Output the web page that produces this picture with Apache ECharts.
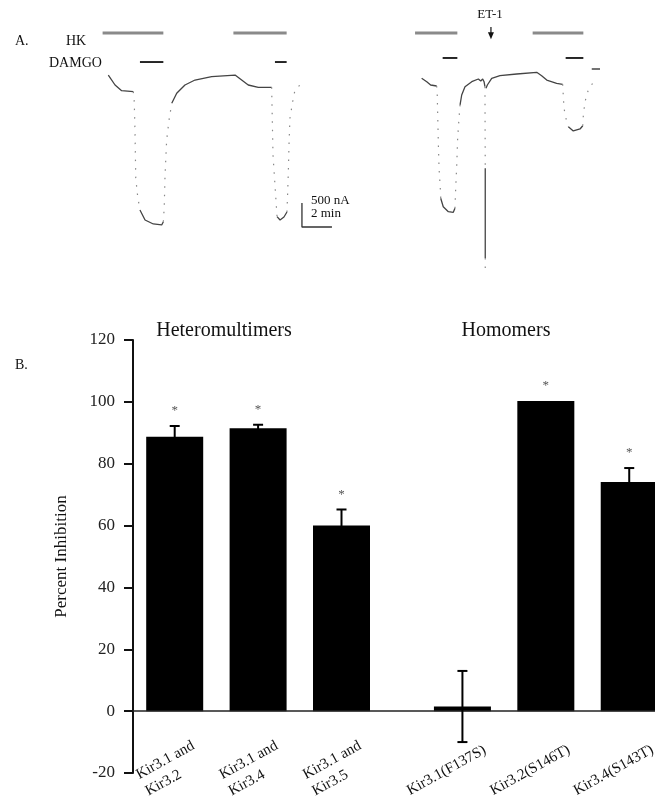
<!DOCTYPE html>
<html>
<head>
<meta charset="utf-8">
<script src="https://cdn.jsdelivr.net/npm/echarts@6/dist/echarts.min.js"></script>
<style>html,body{margin:0;padding:0;background:#fff}#c{width:655px;height:806px}</style>
</head>
<body>
<div id="c"></div>
<script>
// ---------- Panel B data ----------
const categories = ['Kir3.1 and\nKir3.2', 'Kir3.1 and\nKir3.4', 'Kir3.1 and\nKir3.5', 'Kir3.1(F137S)', 'Kir3.2(S146T)', 'Kir3.4(S143T)'];
const percentInhibition = [88.7, 91.5, 60.0, 1.5, 100.3, 74.1];
const sem = [3.5, 1.1, 5.2, 11.5, 0, 4.5];
const significance = ['*', '*', '*', '', '*', '*'];
const groupNames = ['Heteromultimers', 'Homomers'];
const yTicks = { min: -20, max: 120, step: 20 };

// ---------- Panel A data (time in min, current in nA relative to baseline) ----------
const trace1Slow = [
  [[7.22,312],[7.67,104],[8.11,-15],[8.89,-35]],
  [[9.33,-2500],[9.67,-2708],[10.22,-2791],[10.78,-2812],[10.89,-2744]],
  [[11.45,-277],[11.78,-69],[12.33,104],[13.0,208],[14.11,277],[15.67,312],[16.11,208],[16.55,104],[17.22,56],[18.11,56]],
  [[18.47,-2639],[18.67,-2708],[18.93,-2646],[19.13,-2541]]
];
const trace1Fast = [
  [[8.89,-35],[8.95,-244],[9.0,-869],[9.05,-1833],[9.18,-2223],[9.33,-2500]],
  [[10.89,-2744],[10.95,-2431],[11.0,-1806],[11.11,-1042],[11.27,-625],[11.45,-277]],
  [[18.11,56],[18.2,-1354],[18.47,-2639]],
  [[19.13,-2541],[19.18,-2118],[19.22,-1735],[19.27,-1110],[19.33,-590],[19.55,-173],[19.67,0],[20.0,104],[20.13,146]]
];
const trace2Slow = [
  [[28.11,244],[28.45,173],[28.71,104],[29.11,83]],
  [[29.38,-2256],[29.55,-2431],[29.89,-2535],[30.22,-2548],[30.33,-2464]],
  [[30.67,-312],[30.78,-104],[31.0,69],[31.45,173],[31.89,229],[32.05,187],[32.18,229],[32.27,173],[32.33,69]],
  [[32.35,-1631],[32.35,-3500]],
  [[32.4,35],[32.49,104],[32.78,244],[33.33,298],[34.45,333],[35.78,369],[36.11,298],[36.45,208],[37.11,140],[37.51,119]],
  [[37.89,-764],[38.22,-854],[38.67,-812],[38.85,-744]],
  [[39.45,437],[40.0,437]]
];
const trace2Fast = [
  [[29.11,83],[29.15,-104],[29.22,-1077],[29.27,-1631],[29.38,-2187],[29.38,-2256]],
  [[30.33,-2464],[30.38,-2048],[30.45,-1562],[30.51,-1006],[30.6,-590],[30.67,-312]],
  [[32.33,69],[32.35,-1631]],
  [[32.35,-3500],[32.35,-3854]],
  [[37.51,119],[37.55,-104],[37.6,-381],[37.73,-590],[37.89,-764]],
  [[38.85,-744],[38.89,-521],[39.0,-244],[39.22,0],[39.51,140]]
];
const hkPeriods = [[6.84,10.89],[15.56,19.11],[27.67,30.49],[35.51,38.89]];
const damgoPeriods = [[9.33,10.89],[18.33,19.11],[29.51,30.49],[37.71,38.89]];
const et1Time = 32.73;
const scaleBar = { current: 500, time: 2, t0: 20.13, i0: -2354 };

// ---------- build ----------
const SERIF = 'Liberation Serif';
const chart = echarts.init(document.getElementById('c'), null, { renderer: 'canvas' });

const series = [];
function addSegs(segs, style) {
  segs.forEach(s => series.push({
    type: 'line', xAxisIndex: 0, yAxisIndex: 0, data: s, showSymbol: false, silent: true,
    lineStyle: style, animation: false
  }));
}
addSegs(trace1Slow, { color: '#444', width: 1.3 });
addSegs(trace2Slow, { color: '#444', width: 1.3 });
addSegs(trace1Fast, { color: '#888', width: 1.2, type: [1.5, 7] });
addSegs(trace2Fast, { color: '#888', width: 1.2, type: [1.5, 7] });

// HK bars (gray) and DAMGO bars (black)
const hkLevel = 1187;
hkPeriods.forEach(p => series.push({
  type: 'line', xAxisIndex: 0, yAxisIndex: 0, showSymbol: false, silent: true,
  data: [[p[0], hkLevel], [p[1], hkLevel]], lineStyle: { color: '#8a8a8a', width: 3 }
}));
damgoPeriods.forEach((p, i) => {
  const lvl = i < 2 ? 583 : 667;
  series.push({
    type: 'line', xAxisIndex: 0, yAxisIndex: 0, showSymbol: false, silent: true,
    data: [[p[0], lvl], [p[1], lvl]], lineStyle: { color: '#111', width: 1.8 }
  });
});
// ET-1 arrow
series.push({
  type: 'line', xAxisIndex: 0, yAxisIndex: 0, silent: true, showSymbol: true,
  data: [
    { value: [et1Time, 1312], symbol: 'none' },
    { value: [et1Time, 1130], symbol: 'triangle', symbolRotate: 180, symbolSize: [6, 7] }
  ],
  lineStyle: { color: '#111', width: 1.2 }, itemStyle: { color: '#111' }
});
// Scale bar
series.push({
  type: 'line', xAxisIndex: 0, yAxisIndex: 0, showSymbol: false, silent: true,
  data: [[scaleBar.t0, scaleBar.i0], [scaleBar.t0, scaleBar.i0 - scaleBar.current], [scaleBar.t0 + scaleBar.time, scaleBar.i0 - scaleBar.current]],
  lineStyle: { color: '#333', width: 1.3 }
});

// Panel B
const positions = categories.map((c, i) => i + (i >= 3 ? 0.45 : 0));
series.push({
  type: 'bar', xAxisIndex: 1, yAxisIndex: 1, barWidth: 57, clip: false,
  data: positions.map((p, i) => [p, percentInhibition[i]]),
  itemStyle: { color: '#000' }, silent: true,
  markLine: {
    silent: true, symbol: 'none', label: { show: false },
    lineStyle: { color: '#222', width: 1.5, type: 'solid' },
    data: [{ yAxis: 0 }]
  }
});
series.push({
  type: 'custom', xAxisIndex: 1, yAxisIndex: 1, z: 5, silent: true, clip: false,
  data: positions.map((p, i) => [p, percentInhibition[i], sem[i]]),
  renderItem: function (params, api) {
    const x = api.value(0), v = api.value(1), e = api.value(2);
    const top = api.coord([x, v + e]);
    const bot = api.coord([x, v - e]);
    const children = [];
    if (e > 0) {
      const ls = { stroke: '#000', lineWidth: 2 };
      children.push({ type: 'line', shape: { x1: top[0], y1: top[1], x2: bot[0], y2: bot[1] }, style: ls });
      children.push({ type: 'line', shape: { x1: top[0] - 5, y1: top[1], x2: top[0] + 5, y2: top[1] }, style: ls });
      children.push({ type: 'line', shape: { x1: bot[0] - 5, y1: bot[1], x2: bot[0] + 5, y2: bot[1] }, style: ls });
    }
    const s = significance[params.dataIndex];
    if (s) {
      children.push({ type: 'text', x: top[0], y: top[1] - 15,
        style: { text: s, fontSize: 13, fontFamily: SERIF, fill: '#555', align: 'center', verticalAlign: 'middle' } });
    }
    return { type: 'group', children: children };
  }
});
series.push({
  type: 'custom', xAxisIndex: 1, yAxisIndex: 1, z: 5, silent: true, clip: false,
  data: positions.map(p => [p, yTicks.min]),
  renderItem: function (params, api) {
    const lab = categories[params.dataIndex];
    const p = api.coord([api.value(0), api.value(1)]);
    const two = lab.indexOf('\n') >= 0;
    return {
      type: 'text', x: p[0] + (two ? -42 : -59), y: p[1] + (two ? -5.5 : 10.5),
      rotation: 29 * Math.PI / 180,
      style: { text: lab, fontSize: 15, fontFamily: SERIF, fill: '#111', align: 'left', verticalAlign: 'top', lineHeight: 19 }
    };
  }
});

function txt(x, y, text, size, align) {
  return { type: 'text', x: x, y: y, silent: true,
    style: { text: text, fontSize: size, fontFamily: SERIF, fill: '#111', align: align || 'left', verticalAlign: 'middle' } };
}

const unitPx = 83.4;
const gridBWidth = 522;
const option = {
  animation: false,
  textStyle: { fontFamily: SERIF },
  grid: [
    { left: 0, top: 0, width: 655, height: 300 },
    { left: 133, top: 340, width: gridBWidth, height: 433 }
  ],
  xAxis: [
    { type: 'value', gridIndex: 0, min: 0, max: 655 / 15, show: false },
    { type: 'value', gridIndex: 1, min: -0.5, max: -0.5 + gridBWidth / unitPx, show: false }
  ],
  yAxis: [
    { type: 'value', gridIndex: 0, min: -4375, max: 1875, show: false },
    {
      type: 'value', gridIndex: 1, min: yTicks.min, max: yTicks.max, interval: yTicks.step,
      name: 'Percent Inhibition', nameLocation: 'middle', nameGap: 63, nameRotate: 90,
      nameTextStyle: { fontSize: 17, fontFamily: SERIF, color: '#111' },
      axisLine: { show: true, onZero: false, lineStyle: { color: '#111', width: 2 } },
      axisTick: { show: true, length: 9, lineStyle: { color: '#111', width: 2 } },
      axisLabel: { fontSize: 17, fontFamily: SERIF, color: '#222', margin: 18 },
      splitLine: { show: false }
    }
  ],
  graphic: [
    txt(15, 41, 'A.', 14),
    txt(66, 41, 'HK', 14),
    txt(49, 63, 'DAMGO', 14),
    txt(490, 15, 'ET-1', 13, 'center'),
    txt(311, 201, '500 nA', 13),
    txt(311, 214, '2 min', 13),
    txt(15, 365, 'B.', 14),
    txt(224, 331, groupNames[0], 20, 'center'),
    txt(506, 331, groupNames[1], 20, 'center')
  ],
  series: series
};
chart.setOption(option);
</script>
</body>
</html>
